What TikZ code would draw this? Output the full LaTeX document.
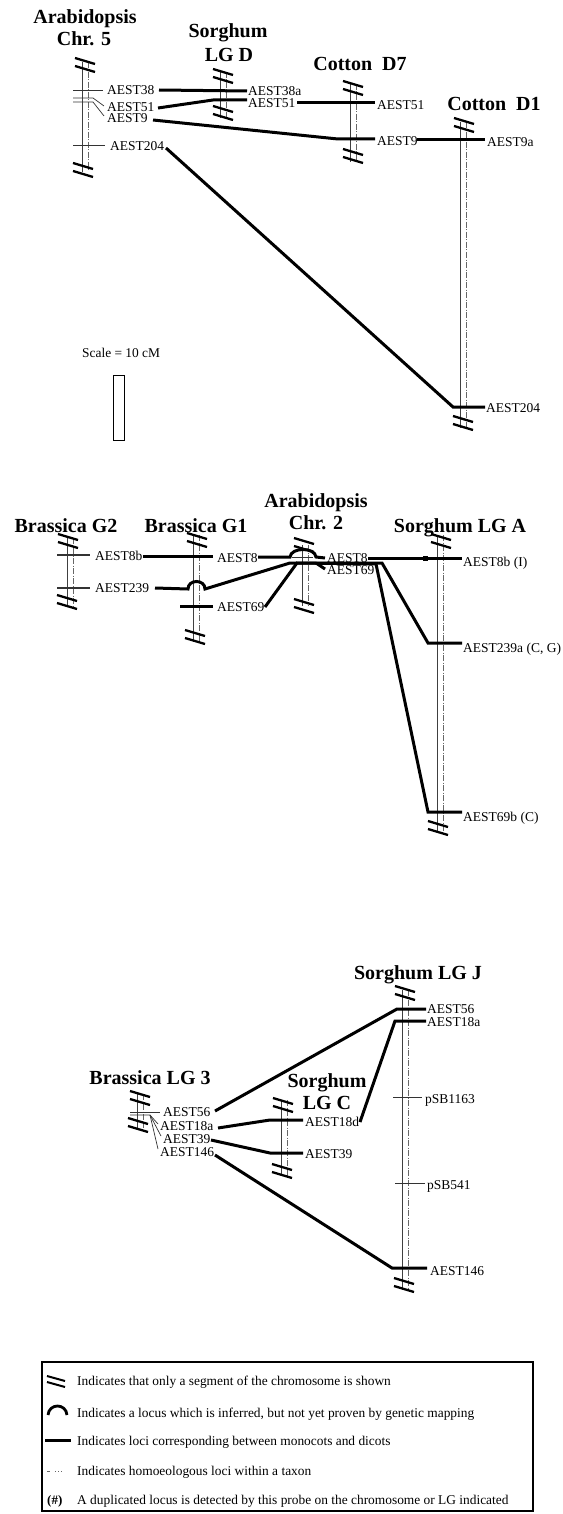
\documentclass[tikz,border=0pt]{standalone}
\usepackage{fontspec}
\setmainfont{Liberation Serif}
\newcommand{\brkmark}[2]{%
  \draw[brkl] ({#1-10},{#2-7}) -- ({#1+10},{#2-1});
  \draw[brkl] ({#1-10},{#2+1}) -- ({#1+10},{#2+7});}
\newcommand{\chromo}[3]{%
  \draw[chl] (#1,#2) -- (#1,#3);
  \draw[chd] ({#1+6.5},#2) -- ({#1+6.5},#3);}
\begin{document}
\begin{tikzpicture}[x=1pt,y=-1pt,
  chl/.style={line width=0.7pt,black!75},
  chd/.style={line width=0.6pt,black!60,dash pattern=on 6pt off 1.5pt on 1pt off 1.5pt},
  tck/.style={line width=0.7pt,black!80},
  cor/.style={line width=3pt,black},
  brkl/.style={line width=2.3pt,black},
  ttl/.style={font=\fontsize{20}{22}\selectfont\bfseries,inner sep=0pt,anchor=base},
  lab/.style={font=\fontsize{13.5}{15}\selectfont,inner sep=0pt,anchor=base west},
  leg/.style={font=\fontsize{13.4}{15}\selectfont,inner sep=0pt,anchor=base west}]
\useasboundingbox[fill=white] (0,0) rectangle (562,1514);

% ================= TOP =================
\node[ttl] (tA5a) at (85,24) {Arabidopsis};
\node[ttl] (tA5b) at (84,46) {Chr. 5};
\node[ttl] (tSDa) at (228,38) {Sorghum};
\node[ttl] (tSDb) at (229,62) {LG D};
\node[ttl] (tC7) at (360,71) {Cotton\ \ D7};
\node[ttl] (tC1) at (494,111) {Cotton\ \ D1};

\chromo{82}{62}{172}
\brkmark{85}{65} \brkmark{83}{170}
\chromo{220}{72}{118}
\brkmark{223}{76} \brkmark{223}{113}
\chromo{350}{84}{162}
\brkmark{353}{88} \brkmark{353}{156}
\chromo{460}{122}{428}
\brkmark{464}{125} \brkmark{463}{423}

\draw[tck] (73,90) -- (103,90);
\draw[tck] (73,98) -- (93,98) -- (104,106);
\draw[tck] (73,102) -- (93,102) -- (104,116);
\draw[tck] (73,145) -- (105,145);

\node[lab] (a5l38) at (107,94.5) {AEST38};
\node[lab] (a5l51) at (107,111.5) {AEST51};
\node[lab] (a5l9) at (107,123) {AEST9};
\node[lab] (a5l204) at (110,150.5) {AEST204};
\node[lab] (sdl38a) at (248,95.5) {AEST38a};
\node[lab] (sdl51) at (248,107.5) {AEST51};
\node[lab] (c7l51) at (377,109.5) {AEST51};
\node[lab] (c7l9) at (377,145.5) {AEST9};
\node[lab] (c1l9a) at (487,146.5) {AEST9a};
\node[lab] (c1l204) at (486,412.5) {AEST204};

\coordinate (k1a) at (159,90); \coordinate (k1b) at (247,91);
\draw[cor] (k1a) -- (k1b);
\coordinate (k2a) at (158,108); \coordinate (k2m) at (213,100); \coordinate (k2b) at (247,100);
\draw[cor] (k2a) -- (k2m) -- (k2b);
\coordinate (k3a) at (297,103); \coordinate (k3b) at (375,103);
\draw[cor] (k3a) -- (k3b);
\coordinate (k4a) at (153,120); \coordinate (k4m) at (338,139); \coordinate (k4b) at (375,139);
\draw[cor] (k4a) -- (k4m) -- (k4b);
\coordinate (k5a) at (417,140); \coordinate (k5b) at (485,140);
\draw[cor] (k5a) -- (k5b);
\coordinate (k6a) at (166,148); \coordinate (k6m) at (453,407); \coordinate (k6b) at (485,407);
\draw[cor] (k6a) -- (k6m) -- (k6b);

\node[font=\fontsize{13.4}{15}\selectfont,inner sep=0pt,anchor=base west] (scl) at (82,357) {Scale = 10 cM};
\draw[line width=0.8pt] (113,375) rectangle (124,440);

% ================= MIDDLE =================
\node[ttl] (tG2) at (66,532) {Brassica G2};
\node[ttl] (tG1) at (196,532) {Brassica G1};
\node[ttl] (tA2a) at (316,507) {Arabidopsis};
\node[ttl] (tA2b) at (316,529) {Chr. 2};
\node[ttl] (tSA) at (460,532) {Sorghum LG A};

\chromo{67}{538}{606}
\brkmark{68}{541} \brkmark{67}{602}
\chromo{193}{535}{642}
\brkmark{197}{540} \brkmark{195}{637}
\chromo{302}{545}{606}
\brkmark{304}{545} \brkmark{304}{606}
\chromo{437}{535}{832}
\brkmark{441}{541} \brkmark{438}{828}

\draw[tck,line width=1.1pt] (57,555) -- (90,555);
\draw[tck,line width=1.1pt] (57,588) -- (90,588);
\draw[tck] (292,557) -- (313,557);

\node[lab] (g2l8b) at (95,560.5) {AEST8b};
\node[lab] (g2l239) at (95,592.5) {AEST239};
\node[lab] (g1l8) at (217,562.5) {AEST8};
\node[lab] (g1l69) at (217,611.5) {AEST69};
\node[lab] (a2l8) at (327,562.5) {AEST8};
\node[lab] (a2l69) at (327,574.5) {AEST69};
\node[lab] (sal8b) at (463,566) {AEST8b (I)};
\node[lab] (sal239) at (463,652) {AEST239a (C, G)};
\node[lab] (sal69) at (463,821) {AEST69b (C)};

\coordinate (g1t69a) at (180,606); \coordinate (g1t69b) at (213,606);
\draw[cor] (g1t69a) -- (g1t69b);
\coordinate (k7a) at (143,556); \coordinate (k7b) at (213,556);
\draw[cor] (k7a) -- (k7b);
\coordinate (k8a) at (258,557); \coordinate (k8h1) at (290,557); \coordinate (k8h2) at (316,557); \coordinate (k8b) at (325,558);
\draw[cor] (k8a) -- (k8h1) .. controls (291,547) and (315,547) .. (k8h2) -- (k8b);
\coordinate (k9a) at (155,588); \coordinate (k9h1) at (188,589); \coordinate (k9h2) at (205,589);
\coordinate (k9m1) at (290,563); \coordinate (k9m2) at (382,563); \coordinate (k9m3) at (428,643); \coordinate (k9b) at (462,643);
\draw[cor] (k9a) -- (k9h1) .. controls (188,579) and (205,579) .. (k9h2) -- (k9m1) -- (k9m2) -- (k9m3) -- (k9b);
\coordinate (k10a) at (265,607); \coordinate (k10m1) at (297,563); \coordinate (k10m2) at (376,564);
\coordinate (k10m3) at (428,812); \coordinate (k10b) at (462,812);
\draw[cor] (k10a) -- (k10m1) -- (k10m2) -- (k10m3) -- (k10b);
\coordinate (k11a) at (316,563); \coordinate (k11b) at (325,569);
\draw[cor] (k11a) -- (k11b);
\coordinate (k12a) at (368,558); \coordinate (k12b) at (462,558);
\draw[cor] (k12a) -- (k12b);
\fill (423,555.5) rectangle (428,560.5);

% ================= BOTTOM =================
\node[ttl] (tSJ) at (418,979) {Sorghum LG J};
\node[ttl] (tB3) at (150,1084) {Brassica LG 3};
\node[ttl] (tSCa) at (327,1087) {Sorghum};
\node[ttl] (tSCb) at (327,1109) {LG C};

\chromo{402}{990}{1290}
\brkmark{405}{993} \brkmark{404}{1285}
\chromo{281}{1100}{1176}
\brkmark{283}{1105} \brkmark{282}{1171}
\chromo{137}{1094}{1128}
\brkmark{140}{1098} \brkmark{138}{1125}

\draw[tck] (393,1097) -- (422,1097);
\draw[tck] (395,1183) -- (425,1183);
\draw[tck] (130,1112) -- (160,1112);
\draw[tck] (130,1115) -- (150,1115) -- (158,1124);
\draw[tck] (150,1115) -- (161,1136);
\draw[tck] (150,1115) -- (158,1149);

\node[lab] (b3l56) at (163,1116) {AEST56};
\node[lab] (b3l18a) at (160,1130.5) {AEST18a};
\node[lab] (b3l39) at (163,1143.5) {AEST39};
\node[lab] (b3l146) at (160,1156.5) {AEST146};
\node[lab] (lcl18d) at (305,1126.5) {AEST18d};
\node[lab] (lcl39) at (305,1158.5) {AEST39};
\node[lab] (ljl56) at (427,1013.5) {AEST56};
\node[lab] (ljl18a) at (427,1026.5) {AEST18a};
\node[lab] (ljl1163) at (425,1103.5) {pSB1163};
\node[lab] (ljl541) at (427,1189.5) {pSB541};
\node[lab] (ljl146) at (430,1275.5) {AEST146};

\coordinate (k13a) at (215,1111); \coordinate (k13m) at (397,1009); \coordinate (k13b) at (426,1009);
\draw[cor] (k13a) -- (k13m) -- (k13b);
\coordinate (k14a) at (218,1128); \coordinate (k14m) at (270,1120); \coordinate (k14b) at (303,1120);
\draw[cor] (k14a) -- (k14m) -- (k14b);
\coordinate (k15a) at (360,1122); \coordinate (k15m) at (395,1021); \coordinate (k15b) at (426,1021);
\draw[cor] (k15a) -- (k15m) -- (k15b);
\coordinate (k16a) at (211,1140); \coordinate (k16m) at (270,1153); \coordinate (k16b) at (303,1153);
\draw[cor] (k16a) -- (k16m) -- (k16b);
\coordinate (k17a) at (215,1155); \coordinate (k17m) at (392,1268); \coordinate (k17b) at (427,1268);
\draw[cor] (k17a) -- (k17m) -- (k17b);

% ================= LEGEND =================
\draw[line width=1.1pt] (42,1362) rectangle (533,1511);
\draw[line width=2pt] (47,1376) -- (65,1381);
\draw[line width=2pt] (47,1382) -- (65,1387);
\draw[line width=2.8pt] (48,1415) .. controls (49,1403) and (66,1403) .. (67,1415);
\draw[cor] (45,1440) -- (71,1440);
\draw[line width=0.6pt,black!60,dash pattern=on 3pt off 5pt on 1pt off 2pt on 1pt off 2pt on 1pt off 20pt] (47,1471) -- (70,1471);
\node[leg,font=\fontsize{13}{15}\selectfont\bfseries] (lg5s) at (47,1504.5) {(\#)};
\node[leg] (lg1) at (77,1385.5) {Indicates that only a segment of the chromosome is shown};
\node[leg] (lg2) at (77,1417.5) {Indicates a locus which is inferred, but not yet proven by genetic mapping};
\node[leg] (lg3) at (77,1445.5) {Indicates loci corresponding between monocots and dicots};
\node[leg] (lg4) at (77,1475.5) {Indicates homoeologous loci within a taxon};
\node[leg] (lg5) at (77,1504.5) {A duplicated locus is detected by this probe on the chromosome or LG indicated};
\end{tikzpicture}
\end{document}
